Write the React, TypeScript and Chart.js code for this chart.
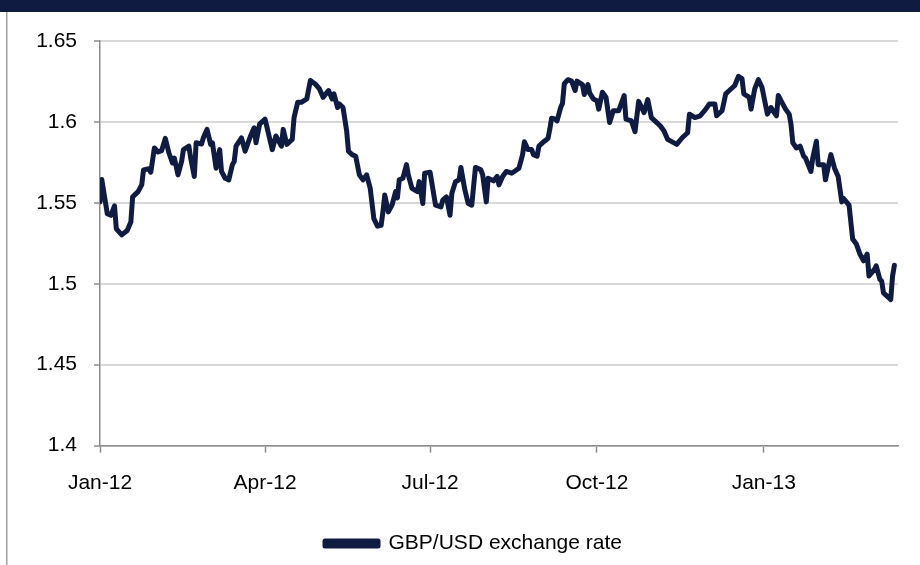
import React, { useEffect, useRef } from "react";
import { Chart, registerables } from "chart.js";

Chart.register(...registerables);

// Day offsets from 1 Jan 2012 and GBP/USD rates
const dayOffsets = [
  0, 1, 4, 6, 8, 9, 12, 15, 17, 18, 21, 23, 24, 27, 28, 30, 32, 34, 36, 38,
  40, 41, 43, 45, 46, 49, 50, 52, 53, 56, 57, 59, 61, 62, 64, 66, 67, 69, 71, 73,
  74, 75, 78, 80, 83, 85, 86, 88, 91, 95, 97, 98, 100, 101, 103, 106, 107, 109, 111, 114,
  116, 119, 121, 123, 126, 128, 129, 131, 132, 134, 136, 137, 139, 141, 143, 145, 147, 149, 151, 153,
  155, 156, 157, 159, 161, 163, 164, 165, 167, 169, 170, 172, 175, 176, 178, 179, 182, 185, 188, 189,
  191, 193, 194, 196, 198, 199, 201, 203, 205, 207, 210, 211, 213, 214, 217, 219, 220, 222, 224, 227,
  229, 231, 233, 234, 236, 238, 239, 241, 242, 245, 247, 248, 249, 251, 252, 254, 255, 256, 258, 260,
  262, 263, 266, 267, 269, 270, 272, 274, 275, 277, 279, 281, 283, 286, 289, 290, 293, 295, 297, 300,
  302, 304, 307, 309, 311, 313, 318, 321, 324, 325, 328, 331, 334, 336, 339, 340, 343, 345, 347, 350,
  352, 354, 355, 358, 359, 361, 363, 365, 368, 370, 371, 373, 374, 376, 378, 380, 381, 382, 384, 386,
  388, 389, 392, 393, 395, 396, 399, 400, 402, 403, 405, 407, 409, 410, 413, 415, 417, 419, 421, 423,
  424, 427, 428, 430, 431, 432, 435, 436, 437, 438,
];

const gbpUsd = [
  1.5506, 1.5644, 1.5433, 1.5423, 1.5481, 1.5339, 1.5302, 1.5329, 1.5381, 1.5537, 1.5569, 1.5611, 1.5704, 1.5711, 1.5689, 1.5839, 1.5814, 1.5823, 1.5898, 1.5808,
  1.5746, 1.5777, 1.5673, 1.5756, 1.5829, 1.585, 1.5777, 1.5663, 1.5871, 1.5864, 1.5902, 1.5954, 1.5861, 1.5871, 1.5714, 1.5829, 1.5694, 1.5652, 1.5642, 1.5736,
  1.5756, 1.585, 1.5902, 1.5819, 1.5913, 1.5964, 1.5871, 1.5986, 1.6017, 1.5829, 1.5913, 1.5892, 1.585, 1.5954, 1.5861, 1.5892, 1.6027, 1.6121, 1.6121, 1.6142,
  1.6256, 1.6231, 1.6204, 1.6152, 1.6194, 1.6142, 1.6173, 1.6089, 1.6111, 1.6089, 1.5944, 1.5819, 1.5798, 1.5788, 1.5673, 1.5642, 1.5673, 1.5589, 1.5402, 1.5356,
  1.5361, 1.5444, 1.5548, 1.5444, 1.5486, 1.5569, 1.5531, 1.5642, 1.5652, 1.5736, 1.5673, 1.5589, 1.5569, 1.5631, 1.5496, 1.5683, 1.5689, 1.5486, 1.5475, 1.5517,
  1.5537, 1.5423, 1.5558, 1.5631, 1.5642, 1.5719, 1.5589, 1.5496, 1.5486, 1.5719, 1.5704, 1.5673, 1.5506, 1.5652, 1.5636, 1.5663, 1.5611, 1.5663, 1.5694, 1.5683,
  1.5698, 1.5714, 1.5798, 1.5877, 1.5829, 1.5829, 1.5798, 1.5788, 1.585, 1.5881, 1.5898, 1.5954, 1.6023, 1.6017, 1.6006, 1.6089, 1.6114, 1.6236, 1.6261, 1.6252,
  1.6194, 1.6252, 1.6231, 1.6169, 1.6231, 1.6178, 1.6142, 1.6131, 1.6079, 1.6183, 1.6152, 1.5996, 1.6069, 1.6069, 1.6163, 1.6017, 1.6006, 1.5939, 1.6127, 1.6058,
  1.6138, 1.6027, 1.5996, 1.5975, 1.5944, 1.5892, 1.5861, 1.5902, 1.5933, 1.6048, 1.6027, 1.6038, 1.6079, 1.6111, 1.6111, 1.6038, 1.6069, 1.6173, 1.6194, 1.6225,
  1.6281, 1.6267, 1.6173, 1.6152, 1.6079, 1.6204, 1.6261, 1.6214, 1.6048, 1.6089, 1.6069, 1.6038, 1.6163, 1.6121, 1.6079, 1.6048, 1.5986, 1.5871, 1.5839, 1.585,
  1.5788, 1.5777, 1.5694, 1.5777, 1.5881, 1.5736, 1.5736, 1.5642, 1.5746, 1.5798, 1.5714, 1.5663, 1.5506, 1.5527, 1.5486, 1.5277, 1.5246, 1.5183, 1.5142, 1.5183,
  1.5048, 1.5089, 1.5111, 1.5027, 1.5017, 1.4944, 1.4913, 1.4902, 1.5048, 1.5114,
];

const tickDays = [0, 91, 182, 274, 366];
const tickLabels = ["Jan-12", "Apr-12", "Jul-12", "Oct-12", "Jan-13"];
const yTicks = [1.4, 1.45, 1.5, 1.55, 1.6, 1.65];
const seriesName = "GBP/USD exchange rate";

const NAVY = "#101b42";
const AXIS = "#8c8c8c";
const GRID = "#d9d9d9";
const FONT = "'Liberation Sans', Arial, sans-serif";

const framePlugin = {
  id: "frame",
  afterLayout(chart: any) {
    const lg = chart.legend;
    if (lg) {
      lg.left += 49;
    }
  },
  beforeDraw(chart: any) {
    const ctx = chart.ctx;
    ctx.save();
    ctx.fillStyle = "#ffffff";
    ctx.fillRect(0, 0, chart.width, chart.height);
    ctx.fillStyle = NAVY;
    ctx.fillRect(0, 0, chart.width, 12);
    ctx.fillStyle = "#a0a0a0";
    ctx.fillRect(6, 12, 1.5, chart.height - 12);
    ctx.restore();
  },
};

export default function App() {
  const ref = useRef<HTMLCanvasElement | null>(null);

  useEffect(() => {
    document.body.style.margin = "0";
    const canvas = ref.current;
    if (!canvas) return;
    const points = dayOffsets.map((d, i) => ({ x: d, y: gbpUsd[i] }));
    const chart = new Chart(canvas, {
      type: "line",
      data: {
        datasets: [
          {
            label: seriesName,
            data: points,
            borderColor: NAVY,
            backgroundColor: NAVY,
            borderWidth: 5,
            pointRadius: 0,
            tension: 0,
            borderJoinStyle: "round",
            borderCapStyle: "round",
          },
        ],
      },
      options: {
        animation: false,
        responsive: false,
        layout: { padding: { left: 0, right: 22, top: 41, bottom: 1 } },
        plugins: {
          tooltip: { enabled: false },
          legend: {
            position: "bottom",
            labels: {
              boxWidth: 53,
              boxHeight: 5,
              color: "#000",
              font: { family: FONT, size: 21 },
              padding: 10,
            },
          },
        },
        scales: {
          x: {
            type: "linear",
            min: 0,
            max: 440,
            afterBuildTicks: (scale: any) => {
              scale.ticks = tickDays.map((v) => ({ value: v }));
            },
            afterFit: (scale: any) => {
              scale.height = 77.4;
            },
            ticks: {
              autoSkip: false,
              maxRotation: 0,
              padding: 18,
              color: "#000",
              font: { family: FONT, size: 21 },
              callback: (v: any) => tickLabels[tickDays.indexOf(Number(v))] ?? "",
            },
            grid: {
              drawOnChartArea: false,
              drawTicks: true,
              tickLength: 7,
              tickColor: AXIS,
              tickWidth: 1.5,
            },
            border: { color: AXIS, width: 1.5 },
          },
          y: {
            min: 1.4,
            max: 1.65,
            afterBuildTicks: (scale: any) => {
              scale.ticks = yTicks.map((v) => ({ value: v }));
            },
            afterFit: (scale: any) => {
              scale.width = 100;
            },
            ticks: {
              padding: 17,
              color: "#000",
              font: { family: FONT, size: 21 },
              callback: (v: any) => String(Number(Number(v).toFixed(2))),
            },
            grid: {
              color: GRID,
              lineWidth: 2,
              drawTicks: true,
              tickLength: 6,
              tickColor: AXIS,
              tickWidth: 1.5,
            },
            border: { color: AXIS, width: 1.5 },
          },
        },
      },
      plugins: [framePlugin],
    } as any);
    return () => chart.destroy();
  }, []);

  return (
    <canvas
      ref={ref}
      width={920}
      height={565}
      style={{ display: "block", width: 920, height: 565 }}
    />
  );
}
